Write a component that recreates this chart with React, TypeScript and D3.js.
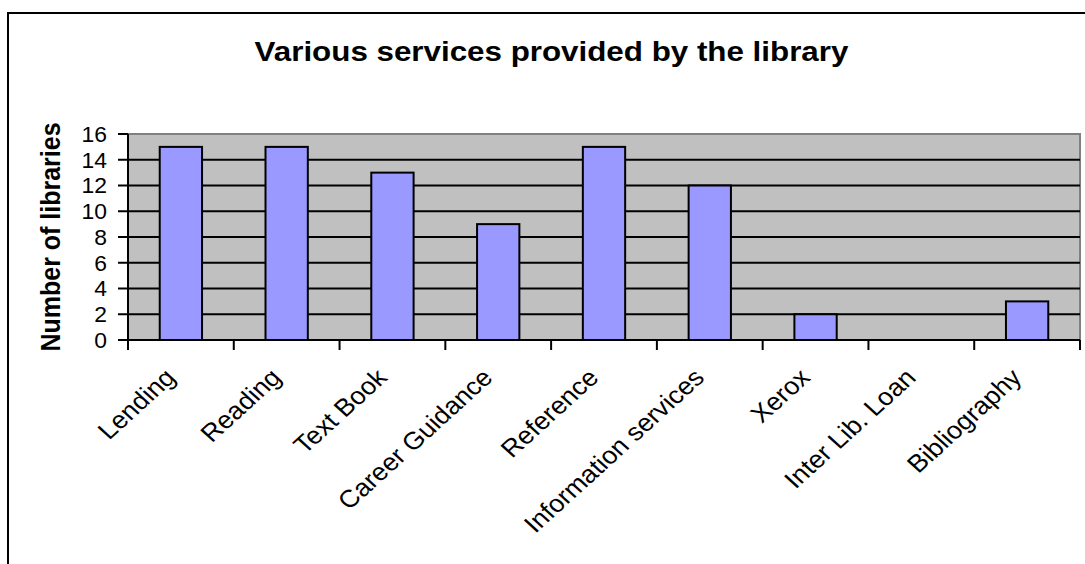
import React from "react";
import * as d3 from "d3";

const categories = [
  "Lending",
  "Reading",
  "Text Book",
  "Career Guidance",
  "Reference",
  "Information services",
  "Xerox",
  "Inter Lib. Loan",
  "Bibliography",
];
const values = [15, 15, 13, 9, 15, 12, 2, 0, 3];
const yTicks = [0, 2, 4, 6, 8, 10, 12, 14, 16];
const title = "Various services provided by the library";
const yTitle = "Number of libraries";

const W = 1085;
const H = 564;
const plot = { left: 128, right: 1080, top: 134, bottom: 340 };
const FONT = "'Liberation Sans', Arial, sans-serif";
const SX = 1.1; // horizontal stretch of the reference image's text

export default function App() {
  const x = d3
    .scaleBand<string>()
    .domain(categories)
    .range([plot.left, plot.right])
    .padding(0);
  const y = d3.scaleLinear().domain([0, 16]).range([plot.bottom, plot.top]);
  const bw = x.bandwidth();
  const barW = bw / 2.5;

  return (
    <svg
      width={W}
      height={H}
      style={{ position: "absolute", left: 0, top: 0, background: "#fff" }}
      fontFamily={FONT}
    >
      {/* outer chart frame */}
      <rect x={8} y={13} width={W + 20} height={H + 20} fill="#fff" stroke="#000" strokeWidth={2} />

      {/* title */}
      <text
        transform={`translate(551.5,61) scale(${SX},1)`}
        textAnchor="middle"
        fontSize={28.5}
        fontWeight="bold"
        fill="#000"
      >
        {title}
      </text>

      {/* plot area */}
      <rect
        x={plot.left}
        y={plot.top}
        width={plot.right - plot.left}
        height={plot.bottom - plot.top}
        fill="#C0C0C0"
        stroke="#808080"
        strokeWidth={2}
      />

      {/* gridlines */}
      {yTicks
        .filter((t) => t > 0 && t < 16)
        .map((t) => (
          <line
            key={"g" + t}
            x1={plot.left}
            x2={plot.right}
            y1={y(t)}
            y2={y(t)}
            stroke="#000"
            strokeWidth={2}
          />
        ))}

      {/* bars */}
      {categories.map((c, i) =>
        values[i] > 0 ? (
          <rect
            key={"b" + c}
            x={(x(c) as number) + (bw - barW) / 2}
            y={y(values[i])}
            width={barW}
            height={y(0) - y(values[i])}
            fill="#9999FF"
            stroke="#000"
            strokeWidth={2}
          />
        ) : null
      )}

      {/* axes lines */}
      <line x1={plot.left} x2={plot.left} y1={plot.top} y2={plot.bottom} stroke="#000" strokeWidth={2} />
      <line x1={plot.left} x2={plot.right} y1={plot.bottom} y2={plot.bottom} stroke="#000" strokeWidth={2} />

      {/* y ticks and labels */}
      {yTicks.map((t) => (
        <g key={"yt" + t}>
          <line x1={plot.left - 10} x2={plot.left} y1={y(t)} y2={y(t)} stroke="#000" strokeWidth={2} />
          <text
            transform={`translate(107,${y(t)}) scale(1.04,1)`}
            dy="0.36em"
            textAnchor="end"
            fontSize={22}
            fill="#000"
          >
            {t}
          </text>
        </g>
      ))}

      {/* x ticks at band boundaries */}
      {categories.map((c, i) => (
        <line
          key={"xt" + i}
          x1={x(c) as number}
          x2={x(c) as number}
          y1={plot.bottom}
          y2={plot.bottom + 10}
          stroke="#000"
          strokeWidth={2}
        />
      ))}
      <line
        x1={plot.right}
        x2={plot.right}
        y1={plot.bottom}
        y2={plot.bottom + 10}
        stroke="#000"
        strokeWidth={2}
      />

      {/* category labels */}
      {categories.map((c) => {
        const cx = (x(c) as number) + bw / 2;
        return (
          <text
            key={"xl" + c}
            transform={`translate(${cx - 4},${plot.bottom + 39}) scale(${SX},1) rotate(-45)`}
            textAnchor="end"
            fontSize={24.5}
            fill="#000"
          >
            {c}
          </text>
        );
      })}

      {/* y axis title */}
      <text
        transform={`translate(60,${(plot.top + plot.bottom) / 2}) scale(${SX},1) rotate(-90)`}
        textAnchor="middle"
        fontSize={25}
        fontWeight="bold"
        fill="#000"
      >
        {yTitle}
      </text>
    </svg>
  );
}
